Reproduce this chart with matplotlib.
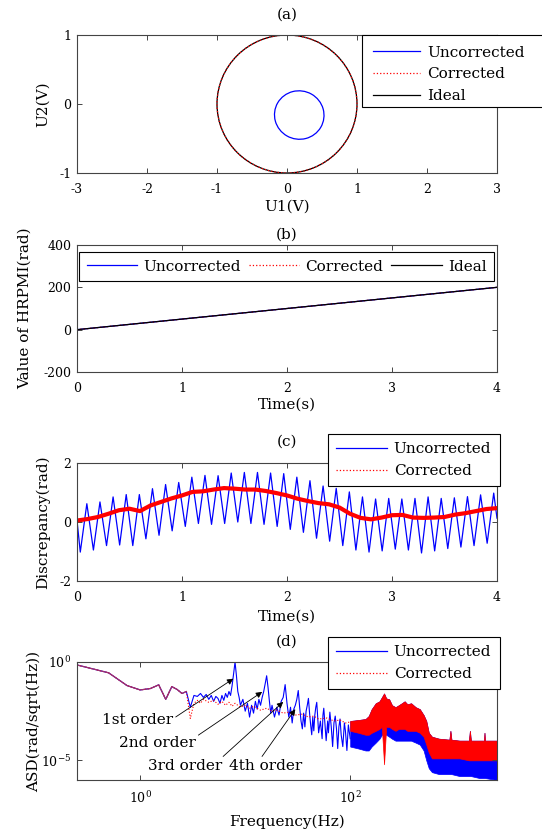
import matplotlib
matplotlib.use('Agg')
import matplotlib.pyplot as plt
import numpy as np
from matplotlib.lines import Line2D
from matplotlib.patches import Circle, Ellipse, Rectangle
from matplotlib.ticker import FixedLocator, LogFormatterMathtext, NullLocator

plt.rcParams['font.family'] = ['DejaVu Serif']
plt.rcParams['mathtext.fontset'] = 'dejavuserif'
plt.rcParams['axes.unicode_minus'] = False

# (a) Lissajous figure of the two interferometer voltages
ideal_radius = 1.0
unc_center   = (0.175, -0.16)
unc_width    = 0.71
unc_height   = 0.70
unc_angle    = -30

# (b) HRPMI value against time
time_b  = [0, 4]
hrpmi_b = [0, 200]

# (c) discrepancy: uncorrected one extreme per half cycle of the 8 Hz ripple
ripple_period = 0.125
unc_troughs = [-1.02, -0.95, -0.80, -0.78, -0.80, -0.57, -0.45, -0.30, -0.15, -0.05,
               -0.08, -0.05, 0.00, -0.05, -0.08, -0.15, -0.25, -0.35, -0.55, -0.65,
               -0.80, -0.95, -1.02, -0.98, -0.92, -0.95, -1.05, -0.98, -0.90, -0.85,
               -0.80, -0.72]
unc_peaks = [0.62, 0.68, 0.85, 0.93, 0.93, 1.13, 1.27, 1.34, 1.52, 1.58,
             1.57, 1.66, 1.68, 1.68, 1.66, 1.64, 1.52, 1.40, 1.22, 1.14,
             1.02, 0.85, 0.78, 0.80, 0.78, 0.80, 0.85, 0.80, 0.82, 0.86,
             0.92, 0.98]
corr_time = np.linspace(0, 4, 41)
corr_disc = [0.05, 0.10, 0.17, 0.28, 0.40, 0.45, 0.37, 0.56, 0.68, 0.80,
             0.90, 1.02, 1.04, 1.10, 1.15, 1.13, 1.10, 1.10, 1.05, 0.98,
             0.90, 0.79, 0.71, 0.64, 0.60, 0.49, 0.28, 0.14, 0.09, 0.15,
             0.23, 0.24, 0.15, 0.14, 0.15, 0.17, 0.25, 0.30, 0.37, 0.44,
             0.47]

# (d) amplitude spectral density, log10 values
low_freq = [0.25, 0.5, 0.75, 1.0, 1.25, 1.5, 1.75, 2.0, 2.25, 2.5, 2.75]
low_asd  = [-0.15, -0.55, -1.2, -1.42, -1.35, -1.16, -1.9, -1.25, -1.4, -1.6, -1.5]

unc_freq = [3.0, 3.25, 3.5, 3.75, 4.0, 4.25, 4.5, 4.75, 5.0, 5.25, 5.5, 5.75, 6.0, 6.25,
            6.5, 6.75, 7.0, 7.25, 7.5, 7.75, 8.0, 8.25, 8.5, 8.75, 9.0, 9.5, 10, 10.5,
            11, 11.5, 12, 12.5, 13, 13.5, 14, 14.5, 15, 15.5, 16, 16.5, 17, 17.5, 18,
            19, 20, 21, 22, 23, 24, 25, 26, 27, 28, 29, 30, 31, 32, 33, 34, 35, 36,
            37, 38, 39, 40, 41, 42, 43, 44, 45, 46, 47, 48, 49, 50, 52, 54, 55, 56,
            57, 59, 61, 62, 64, 66, 68, 70, 72, 74, 76, 78, 80, 82, 85, 88, 90, 93,
            96, 100]
unc_asd = [-2.3, -1.7, -1.75, -1.6, -1.8, -1.65, -1.9, -1.7, -2.0, -1.75, -1.85, -2.1,
           -1.7, -1.95, -1.6, -1.8, -1.5, -1.7, -1.2, -0.6, 0.0, -0.7, -1.5, -1.8,
           -2.2, -1.9, -2.5, -2.1, -2.8, -2.2, -2.6, -2.0, -2.4, -1.9, -2.2, -1.8,
           -1.5, -1.1, -0.7, -1.3, -2.0, -2.6, -2.2, -2.8, -2.3, -2.7, -2.0, -1.8,
           -1.15, -2.1, -2.8, -2.3, -3.1, -2.4, -2.2, -1.9, -1.45, -2.3, -3.0, -3.4,
           -2.6, -3.3, -2.5, -2.2, -1.85, -2.6, -3.2, -3.7, -2.8, -3.5, -2.7, -2.3,
           -2.05, -2.8, -3.6, -3.0, -3.9, -2.7, -2.35, -2.9, -4.0, -3.0, -3.6, -2.55,
           -3.3, -4.3, -3.1, -2.75, -3.4, -4.4, -3.3, -2.9, -3.7, -4.3, -3.1, -3.5,
           -4.5, -3.2, -3.9]

cor_freq = [3.0, 3.25, 3.5, 3.75, 4.0, 4.5, 5.0, 5.5, 6.0, 6.5, 7.0, 7.5, 8.0, 9, 10,
            11, 12, 14, 16, 18, 20, 23, 26, 30, 35, 40, 45, 50, 60, 70, 80, 90, 100]
cor_asd = [-2.87, -2.1, -1.95, -2.1, -1.9, -2.05, -1.95, -2.15, -2.0, -2.2, -2.05,
           -2.25, -2.1, -2.3, -2.2, -2.35, -2.25, -2.45, -2.35, -2.5, -2.45, -2.6,
           -2.55, -2.7, -2.65, -2.8, -2.75, -2.9, -2.85, -3.0, -2.95, -3.1, -3.05]

# dense part above 100 Hz read as envelopes
band_freq = [100, 120, 140, 150, 160, 175, 190, 200, 210, 220, 235, 250, 270, 290, 310,
             330, 350, 380, 420, 460, 500, 530, 560, 600, 700, 880, 900, 920, 1100,
             1350, 1380, 1410, 1700, 1880, 1900, 1920, 2500]
band_cor_top = [-3.0, -2.95, -2.9, -2.75, -2.4, -2.1, -2.0, -1.8, -1.6, -1.85, -1.9,
                -2.2, -2.3, -2.2, -2.1, -2.0, -2.15, -2.1, -2.3, -2.4, -2.7, -3.0,
                -3.6, -3.8, -3.9, -3.95, -3.5, -3.95, -4.0, -4.0, -3.5, -4.0, -4.0,
                -4.0, -3.6, -4.0, -4.0]
band_cor_bot = [-3.5, -3.6, -3.7, -3.7, -3.6, -3.5, -3.4, -3.3, -5.2, -3.3, -3.3,
                -3.4, -3.5, -3.4, -3.4, -3.4, -3.5, -3.5, -3.5, -3.6, -3.8, -4.2,
                -4.6, -4.9, -4.9, -4.9, -4.9, -4.9, -4.9, -5.0, -5.0, -5.0, -5.0,
                -5.0, -5.0, -5.0, -5.0]
band_unc_bot = [-4.3, -4.4, -4.5, -4.5, -4.3, -4.1, -3.9, -3.7, -3.6, -3.7, -3.8,
                -3.9, -4.0, -4.0, -4.0, -4.0, -4.0, -4.0, -4.1, -4.2, -4.5, -5.0,
                -5.4, -5.6, -5.7, -5.7, -5.7, -5.7, -5.8, -5.8, -5.8, -5.8, -5.9,
                -5.9, -5.9, -5.9, -6.0]

order_labels = ['1st order', '2nd order', '3rd order', '4th order']
order_heads  = [(7.7, -0.85), (14.5, -1.52), (23, -2.03), (30, -2.4)]
order_texts  = [(0.94, -2.96), (1.45, -4.1), (2.68, -5.3), (15.5, -5.3)]
order_relpos = [(1.0, 0.6), (1.0, 0.9), (0.97, 1.0), (0.43, 1.0)]

BLUE  = '#0000ff'
RED   = '#ff0000'
FRAME = '#444444'
TICK_FS, LABEL_FS, LEG_FS = 9, 11, 11

def style(ax):
    for s in ax.spines.values():
        s.set_color(FRAME)
        s.set_linewidth(0.8)
    ax.tick_params(direction='in', top=True, right=True, length=3.5, width=0.7,
                   color=FRAME, labelsize=TICK_FS)
    ax.tick_params(axis='x', pad=7)
    ax.tick_params(axis='y', pad=4)

def proxies(n):
    h = [Line2D([], [], color=BLUE, lw=0.9),
         Line2D([], [], color=RED, lw=0.9, ls=':'),
         Line2D([], [], color='black', lw=0.9)]
    return h[:n]

W, H = 542, 831
fig = plt.figure(figsize=(W / 100, H / 100), dpi=100)

def add_axes(x0, y0, x1, y1):
    return fig.add_axes([x0 / W, 1 - y1 / H, (x1 - x0) / W, (y1 - y0) / H])

def leg_frame(leg):
    fr = leg.get_frame()
    fr.set_edgecolor('black')
    fr.set_linewidth(0.8)
    fr.set_alpha(1)

def side_legend(n, labels, x0, y0):
    leg = fig.legend(proxies(n), labels, loc='upper left',
                     bbox_to_anchor=(x0 / W, 1 - y0 / H), fontsize=LEG_FS, fancybox=False,
                     handlelength=3.3, handletextpad=0.45, labelspacing=0.5,
                     borderpad=0.55, borderaxespad=0)
    leg_frame(leg)
    return leg

# ---- (a)
ax1 = add_axes(77, 35, 497, 173)
ax1.add_patch(Circle((0, 0), ideal_radius, fill=False, color='black', lw=0.9))
ax1.add_patch(Circle((0, 0), ideal_radius, fill=False, color=RED, lw=0.9, ls=':'))
ax1.add_patch(Ellipse(unc_center, unc_width, unc_height, angle=unc_angle,
                      fill=False, color=BLUE, lw=0.9))
ax1.set_xlim(-3, 3)
ax1.set_ylim(-1, 1)
ax1.set_xticks(range(-3, 4))
ax1.set_yticks([-1, 0, 1])
style(ax1)
ax1.set_xlabel('U1(V)', fontsize=LABEL_FS)
ax1.set_ylabel('U2(V)', fontsize=LABEL_FS)
ax1.xaxis.set_label_coords(0.5, -0.19)
ax1.yaxis.set_label_coords(-0.065, 0.5)
# legend box runs past the right edge of the figure
fig.add_artist(Rectangle((362 / W, 1 - 107 / H), 200 / W, 72 / H, transform=fig.transFigure,
                         facecolor='white', edgecolor='black', lw=0.8, zorder=4))
leg = fig.legend(proxies(3), ['Uncorrected', 'Corrected', 'Ideal'], loc='upper left',
                 bbox_to_anchor=(362 / W, 1 - 35 / H), fontsize=LEG_FS, frameon=False,
                 handlelength=3.1, handletextpad=0.45, labelspacing=0.5,
                 borderpad=0.7, borderaxespad=0)
fig.text(287 / W, 1 - 15 / H, '(a)', ha='center', va='center', fontsize=LABEL_FS)

# ---- (b)
ax2 = add_axes(77, 245, 497, 372)
ax2.plot(time_b, hrpmi_b, color=BLUE, lw=0.9)
ax2.plot(time_b, hrpmi_b, color=RED, lw=0.9, ls=':')
ax2.plot(time_b, hrpmi_b, color='black', lw=0.9)
ax2.set_xlim(0, 4)
ax2.set_ylim(-200, 400)
ax2.set_xticks(range(0, 5))
ax2.set_yticks([-200, 0, 200, 400])
style(ax2)
ax2.set_xlabel('Time(s)', fontsize=LABEL_FS)
ax2.set_ylabel('Value of HRPMI(rad)', fontsize=LABEL_FS)
ax2.xaxis.set_label_coords(0.5, -0.2)
ax2.yaxis.set_label_coords(-0.108, 0.5)
leg = ax2.legend(proxies(3), ['Uncorrected', 'Corrected', 'Ideal'], ncol=3,
                 loc='upper left', bbox_to_anchor=(2 / 420, 0.6, 415 / 420, 120 / 127 - 0.6),
                 mode='expand', fontsize=LEG_FS, fancybox=False, handlelength=3.3,
                 handletextpad=0.4, columnspacing=0.5, borderpad=0.5, borderaxespad=0)
leg_frame(leg)
fig.text(287 / W, 1 - 235 / H, '(b)', ha='center', va='center', fontsize=LABEL_FS)

# ---- (c)
ax3 = add_axes(77, 463, 497, 581)
t_unc = np.arange(4 * len(unc_peaks) + 1) * ripple_period / 4
v_unc = [corr_disc[0]]
for k in range(len(unc_peaks)):
    v_unc += [unc_troughs[k], (unc_troughs[k] + unc_peaks[k]) / 2, unc_peaks[k]]
    nxt = unc_troughs[k + 1] if k + 1 < len(unc_troughs) else unc_troughs[k]
    v_unc.append((unc_peaks[k] + nxt) / 2)
ax3.plot(t_unc, v_unc, color=BLUE, lw=0.9)
ax3.plot(corr_time, corr_disc, color=RED, lw=3)
ax3.set_xlim(0, 4)
ax3.set_ylim(-2, 2)
ax3.set_xticks(range(0, 5))
ax3.set_yticks([-2, 0, 2])
style(ax3)
ax3.set_xlabel('Time(s)', fontsize=LABEL_FS)
ax3.set_ylabel('Discrepancy(rad)', fontsize=LABEL_FS)
ax3.xaxis.set_label_coords(0.5, -0.245)
ax3.yaxis.set_label_coords(-0.065, 0.5)
side_legend(2, ['Uncorrected', 'Corrected'], 328, 434)
fig.text(287 / W, 1 - 442 / H, '(c)', ha='center', va='center', fontsize=LABEL_FS)

# ---- (d)
ax4 = add_axes(77, 662, 497, 780)
p = lambda v: 10.0 ** np.asarray(v)
ax4.fill_between(band_freq, p(band_unc_bot), p(band_cor_top), color=BLUE, lw=0.5)
ax4.fill_between(band_freq, p(band_cor_bot), p(band_cor_top), color=RED, lw=0.5)
ax4.plot(low_freq + unc_freq, p(low_asd + unc_asd), color=BLUE, lw=0.8)
ax4.plot(low_freq + cor_freq, p(low_asd + cor_asd), color=RED, lw=0.8, ls=':')
ax4.plot(low_freq, p(low_asd), color='#a0306a', lw=0.9)
ax4.set_xscale('log')
ax4.set_yscale('log')
ax4.set_xlim(0.25, 2500)
ax4.set_ylim(1e-6, 1)
ax4.xaxis.set_major_locator(FixedLocator([1, 100]))
ax4.yaxis.set_major_locator(FixedLocator([1e-5, 1]))
ax4.xaxis.set_minor_locator(NullLocator())
ax4.yaxis.set_minor_locator(NullLocator())
ax4.xaxis.set_major_formatter(LogFormatterMathtext())
ax4.yaxis.set_major_formatter(LogFormatterMathtext())
style(ax4)
for lab, head, txt, rp in zip(order_labels, order_heads, order_texts, order_relpos):
    ax4.annotate(lab, xy=(head[0], p(head[1])), xytext=(txt[0], p(txt[1])),
                 ha='center', va='center', fontsize=LEG_FS,
                 arrowprops=dict(arrowstyle='-|>', color='black', lw=0.6,
                                 mutation_scale=9, relpos=rp, shrinkA=0, shrinkB=0))
ax4.set_xlabel('Frequency(Hz)', fontsize=LABEL_FS)
ax4.set_ylabel('ASD(rad/sqrt(Hz))', fontsize=LABEL_FS)
ax4.xaxis.set_label_coords(0.5, -0.29)
ax4.yaxis.set_label_coords(-0.085, 0.5)
side_legend(2, ['Uncorrected', 'Corrected'], 328, 637)
fig.text(287 / W, 1 - 642 / H, '(d)', ha='center', va='center', fontsize=LABEL_FS)

fig.savefig('out.png', dpi=100)
